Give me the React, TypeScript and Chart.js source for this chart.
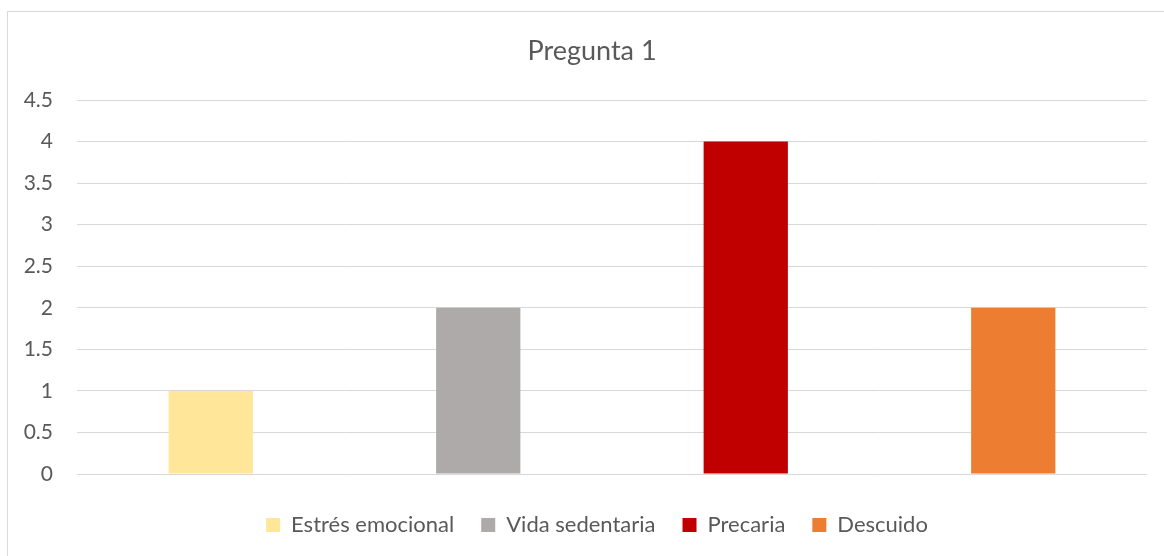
import React, { useEffect, useRef } from "react";
import { Chart, registerables } from "chart.js";

Chart.register(...registerables);

const categories = ["Estrés emocional", "Vida sedentaria", "Precaria", "Descuido"];
const values = [1, 2, 4, 2];
const colors = ["#FFE699", "#AEAAAA", "#C00000", "#ED7D31"];
const titleText = "Pregunta 1";
const yMin = 0;
const yMax = 4.5;
const yStep = 0.5;

const FONT = "Lato, 'Open Sans', sans-serif";
const TEXT = "#595959";
const GRID = "#D9D9D9";

const shiftLegend = {
  id: "shiftLegend",
  afterLayout(chart: any) {
    if (chart.legend) {
      chart.legend.left += 5;
      chart.legend.right += 5;
    }
  },
};

export default function App() {
  const ref = useRef<HTMLCanvasElement | null>(null);

  useEffect(() => {
    if (!ref.current) return;
    const chart = new Chart(ref.current, {
      type: "bar",
      data: {
        labels: categories,
        datasets: [
          {
            label: titleText,
            data: values,
            backgroundColor: colors,
            borderWidth: 0,
            barPercentage: 0.315,
            categoryPercentage: 1,
          },
        ],
      },
      plugins: [shiftLegend],
      options: {
        animation: false,
        responsive: false,
        maintainAspectRatio: false,
        layout: { padding: { left: 37, right: 17, top: 35, bottom: 10 } },
        plugins: {
          tooltip: { enabled: false },
          title: {
            display: true,
            text: titleText,
            color: TEXT,
            font: { family: FONT, size: 27, weight: "normal" },
            padding: { top: 0, bottom: 32.6 },
          },
          legend: {
            position: "bottom",
            labels: {
              color: TEXT,
              font: { family: FONT, size: 22 },
              boxWidth: 14,
              boxHeight: 14,
              padding: 27,
              generateLabels: () =>
                categories.map((c, i) => ({
                  text: c,
                  fillStyle: colors[i],
                  strokeStyle: colors[i],
                  lineWidth: 0,
                  hidden: false,
                  index: i,
                  fontColor: TEXT,
                })),
            },
            onClick: () => {},
          },
        },
        scales: {
          x: {
            grid: { display: false },
            border: { display: false },
            ticks: { display: false },
            afterFit: (s: any) => {
              s.height = 13;
            },
          },
          y: {
            min: yMin,
            max: yMax,
            ticks: {
              stepSize: yStep,
              color: TEXT,
              font: { family: FONT, size: 21 },
              padding: 24,
              callback: (v: any) => String(v),
            },
            grid: { color: GRID, lineWidth: 1, drawTicks: false },
            border: { display: false },
            afterFit: (s: any) => {
              s.width = 40;
              s._computeLabelArea = () => undefined;
            },
          },
        },
      },
    });
    return () => chart.destroy();
  }, []);

  return (
    <div style={{ position: "fixed", left: 0, top: 0, width: 1164, height: 556, overflow: "hidden", background: "#fff" }}>
      <div
        style={{
          position: "absolute",
          left: 7,
          top: 11,
          width: 1200,
          height: 600,
          border: "1px solid #D9D9D9",
          boxSizing: "border-box",
        }}
      />
      <canvas ref={ref} width={1164} height={556} style={{ position: "absolute", left: 0, top: 0 }} />
    </div>
  );
}
